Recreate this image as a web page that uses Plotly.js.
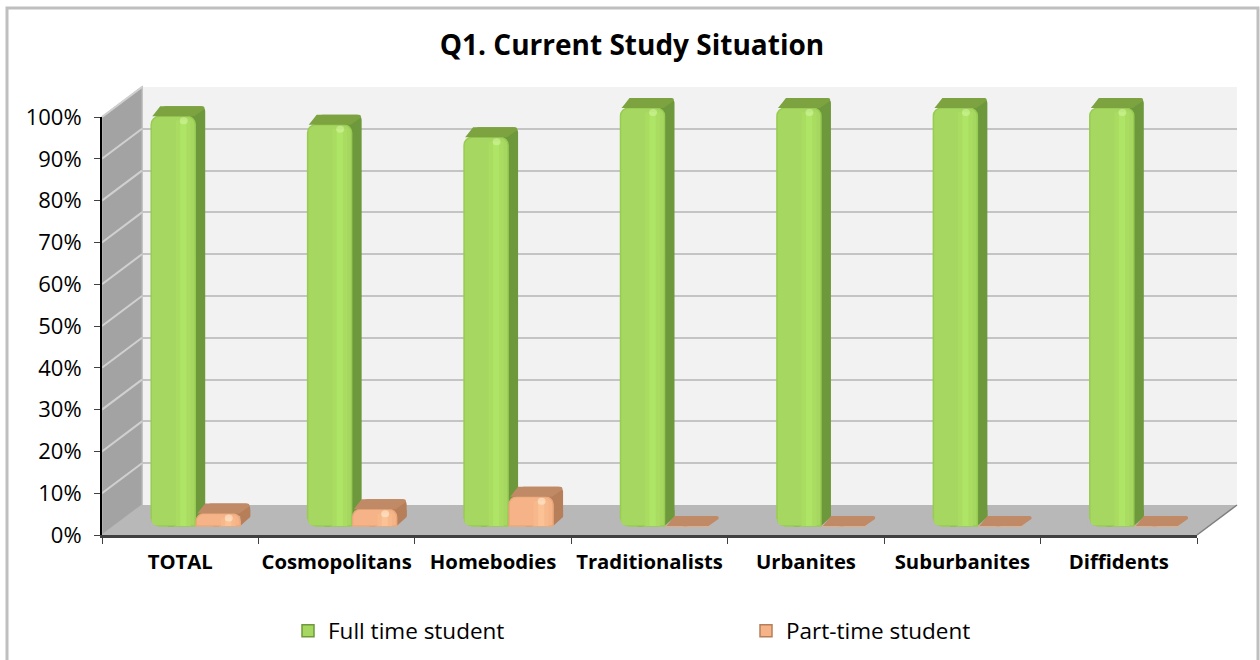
<!DOCTYPE html>
<html>
<head>
<meta charset="utf-8">
<script src="https://cdn.plot.ly/plotly-3.0.1.min.js"></script>
<style>html,body{margin:0;padding:0;background:#fff;overflow:hidden}</style>
</head>
<body>
<div id="chart" style="width:1260px;height:660px"></div>
<script>
const categories = ["TOTAL","Cosmopolitans","Homebodies","Traditionalists","Urbanites","Suburbanites","Diffidents"];
const fullTime = [98,96,93,100,100,100,100];
const partTime = [3,4,7,0,0,0,0];
const yTickValues = [0,10,20,30,40,50,60,70,80,90,100];
const yTickLabels = ["0%","10%","20%","30%","40%","50%","60%","70%","80%","90%","100%"];

const W = 1260, H = 660;
const L = 102, R = 1197, B = 535, T = 117;          // front frame
const backDX = 40, backDY = 30;                      // wall depth
const barDX = 15, barDY = 9;                         // bar row depth
const dX = 10, dY = 10;                              // bar extrusion
const band = (R - L) / categories.length;
const barW = 44 / band;
const unit = (B - T) / 100;
const pad = 10;                                      // hidden axes extend by this many value units so faces are not clipped
const px = X => X / W, py = Y => (H - Y) / H;
const dom = (ox, oy) => ({ x: [px(L + ox), px(R + ox)], y: [py(B - oy), py(T - oy)] });
const domPad = (ox, oy) => ({ x: [px(L + ox), px(R + ox)], y: [py(B - oy + pad * unit), py(T - oy - pad * unit)] });

const hiddenX = d => ({ domain: d.x, range: [-0.5, 6.5], type: 'category', categoryorder:'array', categoryarray: categories, visible: false, fixedrange: true });
const hiddenY = d => ({ domain: d.y, range: [-pad, 100 + pad], visible: false, fixedrange: true });

const FLOOR = '#b8b8b8';
const GREEN = { front:'#a6d760', rim:'#98cb52', side:'#6d983b', top:'#7da341', s1:'#a9dc61', s2:'#afe566', spot:'#d6f7a0', legendLine:'#6f9a3c', name:'Full time student', vals: fullTime, off:-barW };
const ORANGE = { front:'#f5b387', rim:'#eaa97b', side:'#b67f5a', top:'#c08a66', s1:'#f7b88b', s2:'#fbc296', spot:'#fff0d8', legendLine:'#b67f5a', name:'Part-time student', vals: partTime, off:1 / band };

function bar(s, color, ax, ay, extra) {
  return Object.assign({ type:'bar', x: categories, y: s.vals, xaxis: ax, yaxis: ay, width: barW, offset: s.off,
    marker:{ color: color, cornerradius: 5, line:{ width:0 } }, showlegend:false, hoverinfo:'skip' }, extra || {});
}
function stripe(s, color, from, to, inset, extra) {
  return Object.assign({ type:'bar', x: categories, y: s.vals.map(v => Math.max(0, v - inset)), xaxis:'x4', yaxis:'y4',
    width: (to - from) * barW, offset: s.off + from * barW,
    marker:{ color: color, line:{ width:0 } }, showlegend:false, hoverinfo:'skip' }, extra || {});
}
function keyed(s) { // sits under the front face; supplies the square legend key
  return stripe(s, s.front, 0.4, 0.5, 1, { showlegend:true, name:s.name, marker:{ color:s.front, line:{ color:s.legendLine, width:1.5 } } });
}
function front(s) {
  return bar(s, s.front, 'x4', 'y4', { marker:{ color:s.front, cornerradius:8, line:{ color:s.rim, width:1.5 } } });
}

const traces = [
  { type:'scatter', mode:'markers', x: categories, y: yTickValues.slice(0,7), xaxis:'x', yaxis:'y', marker:{ opacity:0 }, showlegend:false, hoverinfo:'skip' },
  { type:'scatter', mode:'markers', x: categories, y: yTickValues.slice(0,7), xaxis:'x2', yaxis:'y2', marker:{ opacity:0 }, showlegend:false, hoverinfo:'skip' },
  bar(GREEN, GREEN.side, 'x3', 'y3'),
  bar(ORANGE, ORANGE.side, 'x3', 'y3'),
  keyed(GREEN),
  front(GREEN),
  stripe(GREEN, GREEN.s1, 0.56, 0.9, 1),
  stripe(GREEN, GREEN.s2, 0.66, 0.8, 1),
  keyed(ORANGE),
  front(ORANGE),
  stripe(ORANGE, ORANGE.s1, 0.56, 0.9, 1),
  stripe(ORANGE, ORANGE.s2, 0.66, 0.8, 1),
  { type:'scatter', mode:'markers', x: categories, y: yTickValues.slice(0,7), xaxis:'x5', yaxis:'y5', marker:{ opacity:0 }, showlegend:false, hoverinfo:'skip' }
];

const shapes = [];
const paperPath = (pts, fill, extra) => Object.assign({ type:'path', xref:'paper', yref:'paper', layer:'below',
  path: pts.map((p, i) => (i ? 'L' : 'M') + px(p[0]) + ',' + py(p[1])).join(' ') + ' Z',
  fillcolor: fill, line:{ width:0 } }, extra || {});

// walls and floor
shapes.push(paperPath([[L+backDX,B-backDY],[R+backDX,B-backDY],[R+backDX,T-backDY],[L+backDX,T-backDY]], '#f2f2f2'));
shapes.push(paperPath([[L,B],[L+backDX,B-backDY],[L+backDX,T-backDY],[L,T]], '#a3a3a3', { line:{ color:'#b5b5b5', width:1.5 } }));
shapes.push(paperPath([[L,B],[R,B],[R+backDX,B-backDY],[L+backDX,B-backDY]], FLOOR));
shapes.push({ type:'line', xref:'paper', yref:'paper', layer:'below', x0:px(R), y0:py(B), x1:px(R+backDX), y1:py(B-backDY), line:{ color:'#7f7f7f', width:1.5 } });

// side wall grid lines, anchored on the value scale
yTickValues.forEach(v => {
  if (v === 0) return;
  shapes.push({ type:'line', xref:'x5', yref:'y5', xsizemode:'pixel', ysizemode:'pixel', xanchor:-0.5, yanchor:v,
    x0:0, y0:0, x1:backDX, y1:backDY, layer:'below', line:{ color:'#d0d0d0', width:2 } });
});

// bar tops, lower right side corners and highlights
function addFaces(s, roundFoot) {
  const w = barW * band;
  s.vals.forEach((v, i) => {
    const left = i + s.off;
    shapes.push({ type:'path', xref:'x4', yref:'y4', xsizemode:'pixel', ysizemode:'pixel', xanchor:left, yanchor:v, layer:'above',
      path:`M1,0 Q2,1 ${dX-1},${dY} H${w+dX-3} Q${w+dX},${dY} ${w+dX-1},${dY-3} L${w-1},0 Z`,
      fillcolor:s.top, line:{ width:0 } });
    if (v > 0) {
      shapes.push({ type:'path', xref:'x3', yref:'y3', xsizemode:'pixel', ysizemode:'pixel', xanchor:left + barW, yanchor:0, layer:'below',
        path:`M${-dX},${-dY} L0,-1 V6 H${-dX} Z`, fillcolor:s.side, line:{ width:0 } });
      shapes.push({ type:'circle', xref:'x4', yref:'y4', xsizemode:'pixel', ysizemode:'pixel', xanchor:left + barW*0.74, yanchor:v, layer:'above',
        x0:-4, x1:4, y0:-8, y1:-1, fillcolor:s.spot, opacity:0.55, line:{ width:0 } });
      if (roundFoot) {
        shapes.push({ type:'path', xref:'x4', yref:'y4', xsizemode:'pixel', ysizemode:'pixel', xanchor:left, yanchor:0, layer:'above',
          path:'M-2,-2 L-2,7 L0,7 Q0,0 7,0 L7,-2 Z', fillcolor:FLOOR, line:{ width:0 } });
      }
    }
  });
}
addFaces(GREEN, true);
addFaces(ORANGE, false);

// chart border
shapes.push({ type:'path', xref:'paper', yref:'paper', layer:'below',
  path:`M${px(7)},${py(670)} L${px(7)},${py(8)} L${px(1258)},${py(8)} L${px(1258)},${py(670)}`,
  fillcolor:'rgba(0,0,0,0)', line:{ color:'#bfbfbf', width:3 } });

const d0 = dom(0,0), d2 = dom(backDX, backDY), d3 = domPad(barDX+dX, barDY+dY), d4 = domPad(barDX, barDY), d5 = domPad(0,0);
const font = 'Open Sans, Noto Sans, sans-serif';

const layout = {
  width: W, height: H, autosize:false,
  margin:{ l:0, r:0, t:0, b:0, pad:0 },
  paper_bgcolor:'#ffffff', plot_bgcolor:'rgba(0,0,0,0)',
  barmode:'overlay', hovermode:false,
  font:{ family: font, color:'#000000' },
  title:{ text:'<b>Q1. Current Study Situation</b>', font:{ family:font, size:28, color:'#000' }, x:632/W, xanchor:'center', xref:'paper', y:py(45), yref:'paper', yanchor:'middle' },
  xaxis:{ domain:d0.x, type:'category', categoryorder:'array', categoryarray:categories, range:[-0.5,6.5], tickson:'boundaries', ticks:'outside', ticklen:6, tickwidth:1, tickcolor:'#404040', tickangle:0,
    showline:true, linecolor:'#404040', linewidth:3, showgrid:false, zeroline:false, fixedrange:true, anchor:'y',
    tickfont:{ family:font, size:20.3, color:'#000', weight:700 }, ticklabelstandoff:7, automargin:false },
  yaxis:{ domain:d0.y, range:[0,100], tickmode:'array', tickvals:yTickValues, ticktext:yTickLabels, ticks:'outside', ticklen:6, tickwidth:1, tickcolor:'#404040',
    showline:true, linecolor:'#000', linewidth:2, showgrid:false, zeroline:false, fixedrange:true, anchor:'x',
    tickfont:{ family:font, size:22, color:'#000' }, ticklabelstandoff:8, automargin:false },
  xaxis2:Object.assign(hiddenX(d2), { anchor:'y2' }),
  yaxis2:{ domain:d2.y, range:[0,100], tickmode:'array', tickvals:yTickValues, showgrid:true, gridcolor:'#c4c4c4', gridwidth:2, zeroline:false, showline:false, showticklabels:false, ticks:'', fixedrange:true, anchor:'x2' },
  xaxis3:Object.assign(hiddenX(d3), { anchor:'y3' }),
  yaxis3:Object.assign(hiddenY(d3), { anchor:'x3' }),
  xaxis4:Object.assign(hiddenX(d4), { anchor:'y4' }),
  yaxis4:Object.assign(hiddenY(d4), { anchor:'x4' }),
  xaxis5:Object.assign(hiddenX(d5), { anchor:'y5' }),
  yaxis5:Object.assign(hiddenY(d5), { anchor:'x5' }),
  shapes: shapes,
  legend:{ orientation:'h', x:px(288), xanchor:'left', y:py(631), yanchor:'middle', entrywidth:413, entrywidthmode:'pixels', traceorder:'normal', bgcolor:'rgba(0,0,0,0)',
    font:{ family:font, size:22.5, color:'#000' }, itemclick:false, itemdoubleclick:false }
};
Plotly.newPlot('chart', traces, layout, { displayModeBar:false, staticPlot:true, responsive:false });
</script>
</body>
</html>
